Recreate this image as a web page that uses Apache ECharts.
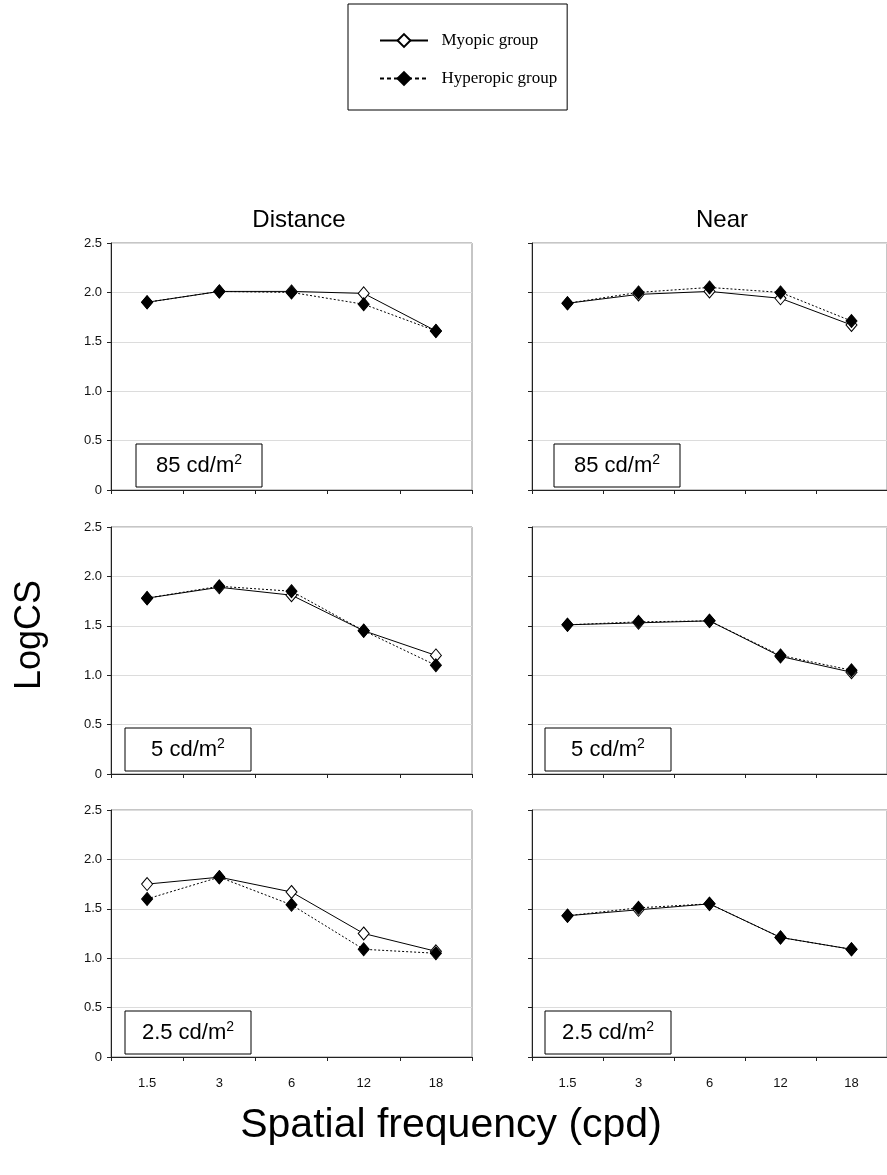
<!DOCTYPE html>
<html>
<head>
<meta charset="utf-8">
<script src="https://cdn.jsdelivr.net/npm/echarts@6/dist/echarts.min.js"></script>
<style>
  html, body { margin: 0; padding: 0; background: #fff; }
  #chart { width: 887px; height: 1175px; }
</style>
</head>
<body>
<div id="chart"></div>
<script>
// Spatial frequencies (cpd) shared by every panel
const categories = ['1.5', '3', '6', '12', '18'];
const yTickLabels = ['0', '0.5', '1.0', '1.5', '2.0', '2.5'];

// LogCS, 85 cd/m2
const distance85Myopic    = [1.90, 2.01, 2.01, 1.99, 1.61];
const distance85Hyperopic = [1.90, 2.01, 2.00, 1.88, 1.61];
const near85Myopic        = [1.89, 1.98, 2.01, 1.94, 1.67];
const near85Hyperopic     = [1.89, 2.00, 2.05, 2.00, 1.71];

// LogCS, 5 cd/m2
const distance5Myopic     = [1.78, 1.89, 1.81, 1.45, 1.20];
const distance5Hyperopic  = [1.78, 1.90, 1.85, 1.45, 1.10];
const near5Myopic         = [1.51, 1.53, 1.55, 1.19, 1.03];
const near5Hyperopic      = [1.51, 1.54, 1.55, 1.20, 1.05];

// LogCS, 2.5 cd/m2
const distance25Myopic    = [1.75, 1.82, 1.67, 1.25, 1.07];
const distance25Hyperopic = [1.60, 1.82, 1.54, 1.09, 1.05];
const near25Myopic        = [1.43, 1.49, 1.55, 1.21, 1.09];
const near25Hyperopic     = [1.43, 1.51, 1.55, 1.21, 1.09];

const luminanceLabels = ['85', '5', '2.5'];
const columnTitles = ['Distance', 'Near'];
const seriesNames = ['Myopic group', 'Hyperopic group'];

const panels = [
  [distance85Myopic, distance85Hyperopic], [near85Myopic, near85Hyperopic],
  [distance5Myopic, distance5Hyperopic],   [near5Myopic, near5Hyperopic],
  [distance25Myopic, distance25Hyperopic], [near25Myopic, near25Hyperopic]
];

const SANS = 'Liberation Sans, Arial, sans-serif';
const SERIF = 'Liberation Serif, Times New Roman, serif';

// panel layout (pixels)
const colLeft = [111, 532];
const rowTop = [243, 527, 810];
const plotW = 361, plotH = 247;

const grids = [], xAxes = [], yAxes = [], series = [], graphics = [];

panels.forEach((pair, i) => {
  const row = Math.floor(i / 2), col = i % 2;
  const isBottom = row === 2, isLeft = col === 0;
  grids.push({
    left: colLeft[col], top: rowTop[row], width: plotW, height: plotH,
    show: true, borderColor: '#8c8c8c', borderWidth: 1, backgroundColor: 'transparent'
  });
  xAxes.push({
    type: 'category', gridIndex: i, data: categories, boundaryGap: true,
    axisLine: { show: true, lineStyle: { color: '#222', width: 1 } },
    axisTick: { show: true, inside: false, length: 4, lineStyle: { color: '#222' } },
    axisLabel: { show: isBottom, fontFamily: SANS, fontSize: 13, color: '#111', margin: 20 },
    splitLine: { show: false }
  });
  yAxes.push({
    type: 'value', gridIndex: i, min: 0, max: 2.5, interval: 0.5,
    axisLine: { show: true, lineStyle: { color: '#222', width: 1 } },
    axisTick: { show: true, inside: false, length: 4, lineStyle: { color: '#222' } },
    axisLabel: {
      show: isLeft, fontFamily: SANS, fontSize: 13, color: '#111', margin: 9,
      formatter: v => yTickLabels[Math.round(v / 0.5)]
    },
    splitLine: { show: true, lineStyle: { color: '#dcdcdc', width: 1 } }
  });
  series.push({
    name: seriesNames[0], type: 'line', xAxisIndex: i, yAxisIndex: i,
    data: pair[0], symbol: 'diamond', symbolSize: [11, 13],
    lineStyle: { color: '#000', width: 1, type: 'solid' },
    itemStyle: { color: '#fff', borderColor: '#000', borderWidth: 1 },
    z: 2, animation: false
  });
  series.push({
    name: seriesNames[1], type: 'line', xAxisIndex: i, yAxisIndex: i,
    data: pair[1], symbol: 'diamond', symbolSize: [11, 13],
    lineStyle: { color: '#000', width: 1, type: [2, 2] },
    itemStyle: { color: '#000', borderColor: '#000', borderWidth: 1 },
    z: 3, animation: false
  });

  // luminance annotation box in the lower-left of each panel
  const bx = isLeft ? (row === 0 ? 136 : 125) : (row === 0 ? 554 : 545);
  const by = rowTop[row] + plotH - 46;
  graphics.push({
    type: 'group', x: bx, y: by, z: 10,
    children: [
      { type: 'rect', shape: { x: 0, y: 0, width: 126, height: 43 },
        style: { fill: '#fff', stroke: '#000', lineWidth: 1 } },
      { type: 'text', x: 63, y: 22,
        style: {
          text: '{n|' + luminanceLabels[row] + ' cd/m}{s|2}',
          align: 'center', verticalAlign: 'middle',
          rich: {
            n: { fontFamily: SANS, fontSize: 22, fill: '#000', lineHeight: 26 },
            s: { fontFamily: SANS, fontSize: 14, fill: '#000', verticalAlign: 'top', lineHeight: 26 }
          }
        } }
    ]
  });
});

// column titles
graphics.push({ type: 'text', x: 299, y: 220,
  style: { text: columnTitles[0], fontFamily: SANS, fontSize: 24, fill: '#000', align: 'center', verticalAlign: 'middle' } });
graphics.push({ type: 'text', x: 722, y: 220,
  style: { text: columnTitles[1], fontFamily: SANS, fontSize: 24, fill: '#000', align: 'center', verticalAlign: 'middle' } });

// shared axis titles
graphics.push({ type: 'text', x: 30, y: 635, rotation: Math.PI / 2,
  style: { text: 'LogCS', fontFamily: SANS, fontSize: 36, fill: '#000', align: 'center', verticalAlign: 'middle' } });
graphics.push({ type: 'text', x: 451, y: 1126,
  style: { text: 'Spatial frequency (cpd)', fontFamily: SANS, fontSize: 41, fill: '#000', align: 'center', verticalAlign: 'middle' } });

const chart = echarts.init(document.getElementById('chart'), null, { renderer: 'canvas' });
chart.setOption({
  animation: false,
  backgroundColor: '#fff',
  legend: {
    data: [
      { name: seriesNames[0] },
      { name: seriesNames[1], lineStyle: { type: [4, 3] } }
    ],
    formatter: name => '  ' + name,
    orient: 'vertical', left: 348, top: 4,
    backgroundColor: '#fff', borderColor: '#000', borderWidth: 1,
    padding: [28, 10, 23, 31], itemGap: 21, itemWidth: 48, itemHeight: 16,
    textStyle: { fontFamily: SERIF, fontSize: 17, color: '#000' }
  },
  grid: grids, xAxis: xAxes, yAxis: yAxes, series: series, graphic: graphics
});
</script>
</body>
</html>
